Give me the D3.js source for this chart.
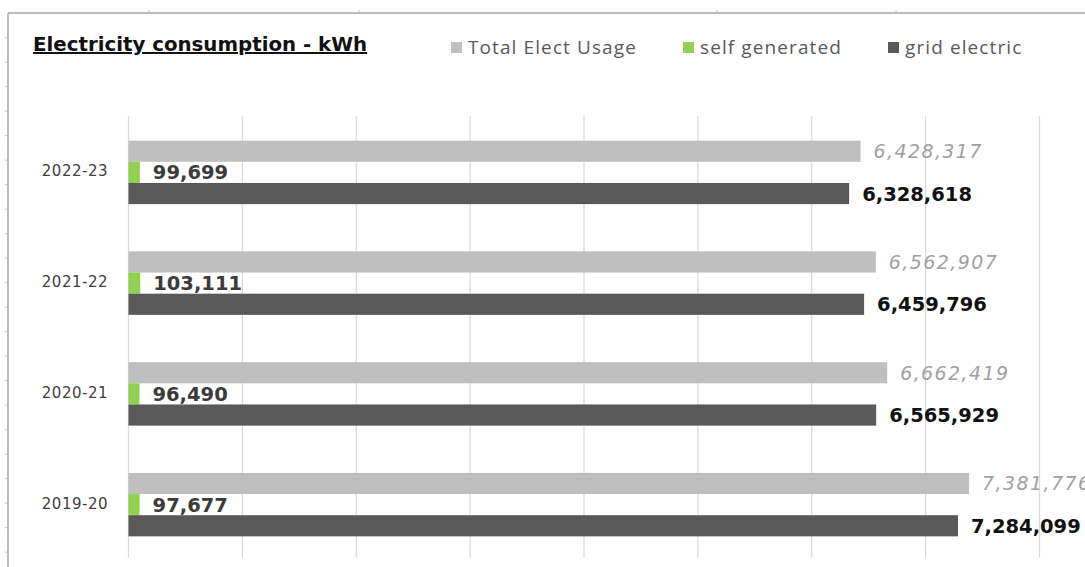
<!DOCTYPE html>
<html>
<head>
<meta charset="utf-8">
<script src="https://cdn.jsdelivr.net/npm/d3@7"></script>
<style>
  body { margin: 0; background: #fff; }
  svg { display: block; }
  .grid line { stroke: #d9d9d9; stroke-width: 1.2; }
  .cat { font-family: "DejaVu Sans", Verdana, sans-serif; font-size: 15px; fill: #404040; letter-spacing: 0.5px; }
  .lbl { font-family: "DejaVu Sans", Verdana, sans-serif; }
  .legend text { font-family: "Open Sans", sans-serif; font-size: 19px; fill: #595959; letter-spacing: 1.1px; }
</style>
</head>
<body>
<div id="chart"></div>
<script>
// chart data
var years = ["2022-23", "2021-22", "2020-21", "2019-20"];
var totalUsage = [6428317, 6562907, 6662419, 7381776];
var selfGenerated = [99699, 103111, 96490, 97677];
var gridElectric = [6328618, 6459796, 6565929, 7284099];
var seriesNames = ["Total Elect Usage", "self generated", "grid electric"];
var seriesColors = ["#bfbfbf", "#92d050", "#595959"];
var xTickValues = [0, 1000000, 2000000, 3000000, 4000000, 5000000, 6000000, 7000000, 8000000];

var width = 1085,
    height = 567;

var svg = d3.select("#chart")
    .append("svg")
    .attr("width", width)
    .attr("height", height);

// spreadsheet frame around the chart (with faint cell borders peeking out)
svg.append("g")
    .selectAll("line")
    .data(d3.range(37.7, height, 24.5))
    .enter()
    .append("line")
    .attr("x1", 5).attr("x2", 8)
    .attr("y1", function (d) { return d; })
    .attr("y2", function (d) { return d; })
    .attr("stroke", "#c8c8c8");
svg.append("g")
    .selectAll("line")
    .data([149, 359, 717, 896])
    .enter()
    .append("line")
    .attr("x1", function (d) { return d; })
    .attr("x2", function (d) { return d; })
    .attr("y1", 10).attr("y2", 13)
    .attr("stroke", "#c8c8c8");
svg.append("line")
    .attr("x1", 8).attr("y1", 13).attr("x2", width).attr("y2", 13)
    .attr("stroke", "#a6a6a6").attr("stroke-width", 1.5);
svg.append("line")
    .attr("x1", 8).attr("y1", 13).attr("x2", 8).attr("y2", height)
    .attr("stroke", "#a6a6a6").attr("stroke-width", 1.5);

var x = d3.scaleLinear()
    .domain([0, 8000000])
    .range([128.5, 1039.5]);

var y = d3.scaleBand()
    .domain(years)
    .range([117, 560])
    .paddingInner(0.427)
    .paddingOuter(0.2135);

var ySeries = d3.scaleBand()
    .domain(seriesNames)
    .range([0, y.bandwidth()]);

// vertical gridlines
svg.append("g")
    .attr("class", "grid")
    .selectAll("line")
    .data(xTickValues)
    .enter()
    .append("line")
    .attr("x1", function (d) { return x(d); })
    .attr("x2", function (d) { return x(d); })
    .attr("y1", 116)
    .attr("y2", 558);

// category labels
svg.append("g")
    .selectAll("text")
    .data(years)
    .enter()
    .append("text")
    .attr("class", "cat")
    .attr("x", 108)
    .attr("y", function (d) { return y(d) + y.bandwidth() / 2 + 4; })
    .attr("text-anchor", "end")
    .text(function (d) { return d; });

// flatten into one row per bar
var rows = [];
years.forEach(function (yr, i) {
    rows.push({ year: yr, series: seriesNames[0], value: totalUsage[i] });
    rows.push({ year: yr, series: seriesNames[1], value: selfGenerated[i] });
    rows.push({ year: yr, series: seriesNames[2], value: gridElectric[i] });
});

function barY(d) { return y(d.year) + ySeries(d.series); }

svg.append("g")
    .selectAll("rect")
    .data(rows)
    .enter()
    .append("rect")
    .attr("x", x(0))
    .attr("y", barY)
    .attr("width", function (d) { return x(d.value) - x(0); })
    .attr("height", ySeries.bandwidth())
    .attr("fill", function (d) { return seriesColors[seriesNames.indexOf(d.series)]; });

var fmt = d3.format(",");

svg.append("g")
    .selectAll("text")
    .data(rows)
    .enter()
    .append("text")
    .attr("class", "lbl")
    .attr("x", function (d) { return x(d.value) + 13; })
    .attr("y", function (d) { return barY(d) + ySeries.bandwidth() / 2; })
    .attr("dy", "0.36em")
    .style("font-size", function (d) { return d.series == seriesNames[0] ? "19px" : "19.5px"; })
    .style("font-style", function (d) { return d.series == seriesNames[0] ? "italic" : "normal"; })
    .style("font-weight", function (d) { return d.series == seriesNames[0] ? "normal" : "bold"; })
    .style("letter-spacing", function (d) { return d.series == seriesNames[0] ? "1.4px" : "0px"; })
    .style("fill", function (d) {
        if (d.series == seriesNames[0]) return "#a0a0a0";
        if (d.series == seriesNames[1]) return "#3b3b3b";
        return "#111111";
    })
    .text(function (d) { return fmt(d.value); });

// title
svg.append("text")
    .attr("x", 33)
    .attr("y", 51)
    .style("font-family", "'DejaVu Sans', Verdana, sans-serif")
    .style("font-size", "19.8px")
    .style("font-weight", "bold")
    .style("text-decoration", "underline")
    .style("fill", "#111")
    .text("Electricity consumption - kWh");

// legend
var legendX = [451, 683, 888];
var legend = svg.append("g")
    .attr("class", "legend")
    .selectAll("g")
    .data(seriesNames)
    .enter()
    .append("g")
    .attr("transform", function (d, i) { return "translate(" + legendX[i] + ",42)"; });

legend.append("rect")
    .attr("width", 11)
    .attr("height", 11)
    .attr("fill", function (d, i) { return seriesColors[i]; });

legend.append("text")
    .attr("x", 17)
    .attr("y", 12)
    .text(function (d) { return d; });
</script>
</body>
</html>
